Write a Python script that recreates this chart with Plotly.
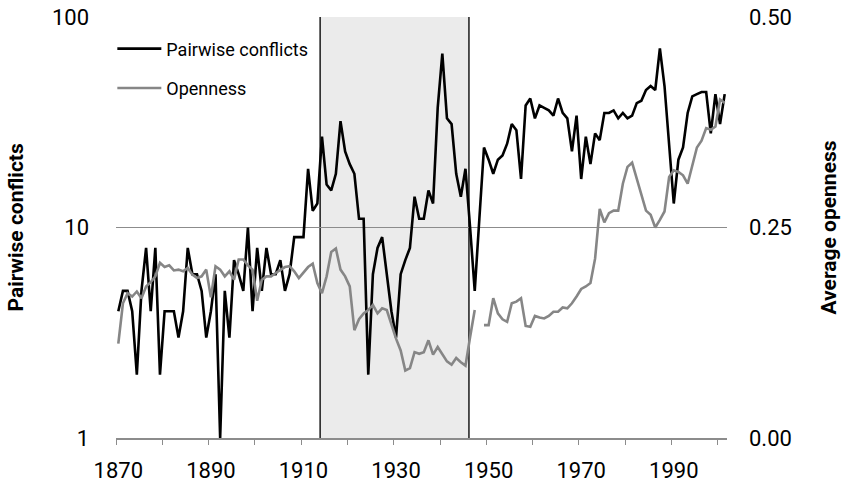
import plotly.graph_objects as go

years = list(range(1870, 2002))

conflicts = [
    4, 5, 5, 4, 2, 5, 8, 4, 8, 2,
    4, 4, 4, 3, 4, 8, 6, 6, 5, 3,
    4, 6, 1, 5, 3, 7, 6, 5, 10, 4,
    8, 5, 8, 6, 6, 7, 5, 6, 9, 9,
    9, 19, 12, 13, 27, 16, 15, 18, 32, 23,
    20, 18, 11, 11, 2, 6, 8, 9, 6, 4,
    3, 6, 7, 8, 14, 11, 11, 15, 13, 37,
    67, 33, 31, 18, 14, 19, 10, 5, 11, 24,
    21, 18, 21, 22, 25, 31, 29, 17, 38, 41,
    33, 38, 37, 36, 34, 41, 35, 33, 23, 34,
    17, 27, 20, 28, 26, 35, 35, 36, 33, 35,
    33, 34, 39, 40, 45, 47, 45, 71, 47, 25,
    13, 21, 24, 35, 42, 43, 44, 44, 28, 43,
    31, 43,
]

openness = [
    .112, .160, .172, .168, .174, .166, .180, .185, .192, .208,
    .203, .205, .199, .200, .198, .202, .194, .190, .192, .200,
    .167, .204, .200, .192, .198, .188, .212, .212, .205, .200,
    .163, .188, .192, .192, .196, .200, .203, .204, .198, .190,
    .196, .203, .207, .184, .172, .192, .221, .225, .200, .192,
    .180, .128, .141, .148, .152, .158, .148, .154, .152, .134,
    .118, .104, .080, .083, .102, .100, .102, .116, .099, .108,
    .099, .091, .087, .095, .090, .086, .120, .152, None, .134,
    .134, .166, .148, .141, .138, .160, .162, .166, .133, .132,
    .145, .143, .142, .145, .150, .150, .155, .154, .160, .168,
    .177, .180, .184, .213, .272, .256, .267, .270, .270, .302,
    .322, .327, .308, .289, .270, .265, .250, .259, .269, .310,
    .318, .316, .312, .302, .324, .345, .353, .368, .366, .370,
    .402, .398,
]

x_labels = [1870, 1890, 1910, 1930, 1950, 1970, 1990]
left_ticks = [1, 10, 100]
left_ticktext = ["1", "10", "100"]
right_ticks = [0, 0.25, 0.5]
right_ticktext = ["0.00", "0.25", "0.50"]
war_start, war_end = 1913.6, 1945.75

GRID = "#8c8c8c"
GRAY = "#868686"
FONT = "Roboto"
PLOT_W = 845 - 116 - 118

fig = go.Figure()
fig.add_trace(go.Scatter(
    x=years, y=conflicts, name="Pairwise conflicts", mode="lines",
    line=dict(color="black", width=2.6), legendgroup="a",
))
fig.add_trace(go.Scatter(
    x=years, y=openness, name="Openness", mode="lines", yaxis="y2",
    line=dict(color=GRAY, width=2.6), legendgroup="b", connectgaps=False,
))

fig.add_shape(type="rect", xref="x", yref="paper", x0=war_start, x1=war_end,
              y0=0, y1=1, fillcolor="#ebebeb", line=dict(width=0), layer="below")
for xv in (war_start, war_end):
    fig.add_shape(type="line", xref="x", yref="paper", x0=xv, x1=xv, y0=0, y1=1,
                  line=dict(color="#1a1a1a", width=1.5), layer="below")

fig.update_layout(
    width=845, height=495,
    margin=dict(l=116, r=118, t=17, b=57, autoexpand=False),
    plot_bgcolor="white", paper_bgcolor="white",
    font=dict(family=FONT, color="black"),
    showlegend=True,
    legend=dict(x=-0.006, y=0.968, xanchor="left", yanchor="top",
                font=dict(family=FONT, size=18), tracegroupgap=13,
                bgcolor="rgba(0,0,0,0)", itemwidth=44),
    xaxis=dict(
        range=[1869.5, 2001.5], showgrid=False, zeroline=False, automargin=False,
        showline=True, linecolor=GRID, linewidth=1.5,
        tickmode="array", tickvals=x_labels, ticktext=[str(v) for v in x_labels],
        ticks="", tickfont=dict(size=22, family=FONT), ticklabelstandoff=12,
        minor=dict(tickmode="array", tickvals=[1869.5 + 10 * k for k in range(14)],
                   ticks="outside", ticklen=5, tickcolor=GRID, tickwidth=1.3,
                   showgrid=False),
    ),
    yaxis=dict(
        type="log", range=[0, 2], tickmode="array", tickvals=left_ticks,
        ticktext=left_ticktext, showgrid=True, gridcolor=GRID, gridwidth=1.3,
        zeroline=False, showline=False, ticks="", tickfont=dict(size=22, family=FONT),
        ticklabelstandoff=26, automargin=False,
    ),
    yaxis2=dict(
        overlaying="y", side="right", range=[0, 0.5], tickmode="array",
        tickvals=right_ticks, ticktext=right_ticktext, showgrid=False,
        zeroline=False, showline=False, ticks="", tickfont=dict(size=22, family=FONT),
        ticklabelstandoff=21, automargin=False,
    ),
)

fig.add_annotation(text="<b>Pairwise conflicts</b>", xref="paper", yref="paper",
                   x=(15 - 116) / PLOT_W, y=0.5, textangle=-90, showarrow=False,
                   font=dict(size=21, family=FONT), xanchor="center", yanchor="middle")
fig.add_annotation(text="<b>Average openness</b>", xref="paper", yref="paper",
                   x=(828 - 116) / PLOT_W, y=0.5, textangle=-90, showarrow=False,
                   font=dict(size=21, family=FONT), xanchor="center", yanchor="middle")

fig.write_html("out.html", post_script="document.body.style.margin='0';",
               config={"displayModeBar": False})
